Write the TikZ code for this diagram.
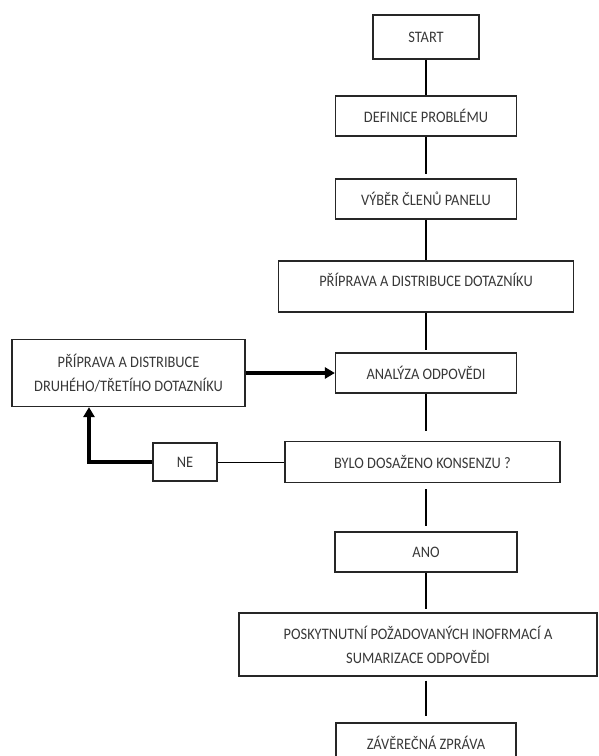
\documentclass[tikz,border=0pt]{standalone}
\usepackage{fontspec}
\setmainfont{Carlito}[FakeStretch=0.9]
\usepackage{tikz}
\usetikzlibrary{arrows.meta, calc}
\tikzset{every node/.style={font=\fontsize{16}{24}\selectfont}}

\begin{document}
\begin{tikzpicture}[x=1pt,y=-1pt,box/.style={draw=black!85,line width=1.2pt,
                text=black!78,align=center,inner sep=0pt},flow/.style={line width=2.8pt},
                back/.style={line width=3.8pt,-{Triangle[length=10pt,width=11pt]}}]
                \useasboundingbox (0,0) rectangle (599,756);
                \node[box,minimum width=106,minimum height=44] (start) at (426,37) {START};
                \node[box,minimum width=181,minimum height=40] (problem) at (426,116) {DEFINICE PROBLÉMU};
                \node[box,minimum width=181,minimum height=40] (panel) at (426,199) {VÝBĚR ČLENŮ PANELU};
                \node[box,minimum width=295,minimum height=51,text depth=14pt] (dotaznik) at (426,286.5) {PŘÍPRAVA A DISTRIBUCE DOTAZNÍKU};
                \node[box,minimum width=181,minimum height=40] (analyza) at (426,373) {ANALÝZA ODPOVĚDI};
                \node[box,minimum width=233,minimum height=67] (druhy) at (128.5,373) {PŘÍPRAVA A DISTRIBUCE\\DRUHÉHO/TŘETÍHO DOTAZNÍKU};
                \node[box,minimum width=275,minimum height=41] (konsenzus) at (422.5,462) {BYLO DOSAŽENO KONSENZU ?};
                \node[box,minimum width=64,minimum height=38] (ne) at (185,462) {NE};
                \node[box,minimum width=182,minimum height=40] (ano) at (426,552) {ANO};
                \node[box,minimum width=358,minimum height=63] (souhrn) at (418,644.5) {POSKYTNUTNÍ POŽADOVANÝCH INOFRMACÍ A\\SUMARIZACE ODPOVĚDI};
                \node[box,minimum width=180,minimum height=40] (zprava) at (426,743) {ZÁVĚREČNÁ ZPRÁVA};
                \draw[flow] (start) -- (problem);
                \draw[flow,shorten >=4pt] (problem) -- (panel);
                \draw[flow] (panel) -- (dotaznik);
                \draw[flow,shorten >=2pt] (dotaznik) -- (analyza);
                \draw[flow,shorten >=10pt] (analyza) -- (analyza |- konsenzus.north);
                \draw[flow,shorten <=6pt,shorten >=5pt] (konsenzus.south -| ano) -- (ano);
                \draw[flow,shorten >=3pt] (ano) -- (ano |- souhrn.north);
                \draw[flow,shorten <=4pt,shorten >=6pt] (ano |- souhrn.south) -- (zprava);
                \draw[back] (druhy) -- (analyza);
                \draw[line width=1pt] (ne) -- (konsenzus);
                \draw[back] (ne.west) -| ($(druhy.south)+(-39.5,0)$);
            \end{tikzpicture}
\end{document}
